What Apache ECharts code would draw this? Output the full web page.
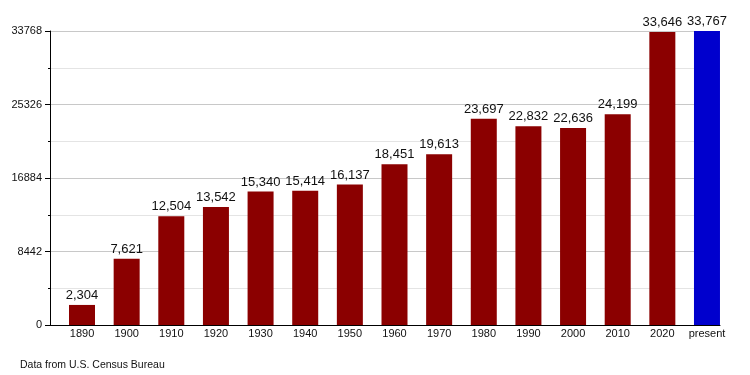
<!DOCTYPE html>
<html><head><meta charset="utf-8">
<script src="https://cdn.jsdelivr.net/npm/echarts@6/dist/echarts.min.js"></script>
<style>html,body{margin:0;padding:0;background:#fff}#c{width:750px;height:375px}</style>
</head><body><div id="c"></div>
<script>
var categories = ['1890','1900','1910','1920','1930','1940','1950','1960','1970','1980','1990','2000','2010','2020','present'];
var values = [2304,7621,12504,13542,15340,15414,16137,18451,19613,23697,22832,22636,24199,33646,33767];
var barColors = ['#8b0000','#8b0000','#8b0000','#8b0000','#8b0000','#8b0000','#8b0000','#8b0000','#8b0000','#8b0000','#8b0000','#8b0000','#8b0000','#8b0000','#0000cd'];
var yTicks = [0,8442,16884,25326,33768];
var FONT = 'Liberation Sans';
var chart = echarts.init(document.getElementById('c'), null, {renderer:'canvas'});
chart.setOption({
  animation:false,
  textStyle:{fontFamily:FONT},
  grid:[
    {left:50,right:30,top:31,bottom:50},
    {left:59.7,right:20.7,top:31,bottom:50}
  ],
  xAxis:[
    {gridIndex:0,type:'value',min:0,max:1,axisLine:{show:true,lineStyle:{color:'#000',width:1}},axisTick:{show:false},axisLabel:{show:false},splitLine:{show:false}},
    {gridIndex:1,type:'category',data:categories,axisLine:{show:false},axisTick:{show:false},
     axisLabel:{interval:0,fontFamily:FONT,fontSize:11,color:'#111',margin:3}}
  ],
  yAxis:[
    {gridIndex:0,type:'value',min:yTicks[0],max:yTicks[yTicks.length-1],interval:yTicks[1]-yTicks[0],
     axisLine:{show:true,lineStyle:{color:'#000',width:1}},
     axisTick:{show:true,length:5,lineStyle:{color:'#000'}},
     minorTick:{show:true,splitNumber:2,length:2,lineStyle:{color:'#000'}},
     splitLine:{show:true,lineStyle:{color:'#c8c8c8',width:1}},
     minorSplitLine:{show:true,lineStyle:{color:'#e4e4e4',width:1}},
     axisLabel:{fontFamily:FONT,fontSize:11,color:'#111',margin:8,formatter:function(v){return String(v);}}},
    {gridIndex:1,type:'value',min:yTicks[0],max:yTicks[yTicks.length-1],show:false,splitLine:{show:false}}
  ],
  series:[{
    type:'bar',xAxisIndex:1,yAxisIndex:1,barWidth:26,
    data:values.map(function(v,i){return {value:v,itemStyle:{color:barColors[i]}};}),
    label:{show:true,position:'top',distance:3,fontFamily:FONT,fontSize:13,color:'#111',
      formatter:function(p){return p.value.toLocaleString('en-US');}}
  }],
  graphic:[{type:'text',left:20,top:360,style:{text:'Data from U.S. Census Bureau',fontFamily:FONT,fontSize:10.5,fill:'#111'}}]
});
</script></body></html>
